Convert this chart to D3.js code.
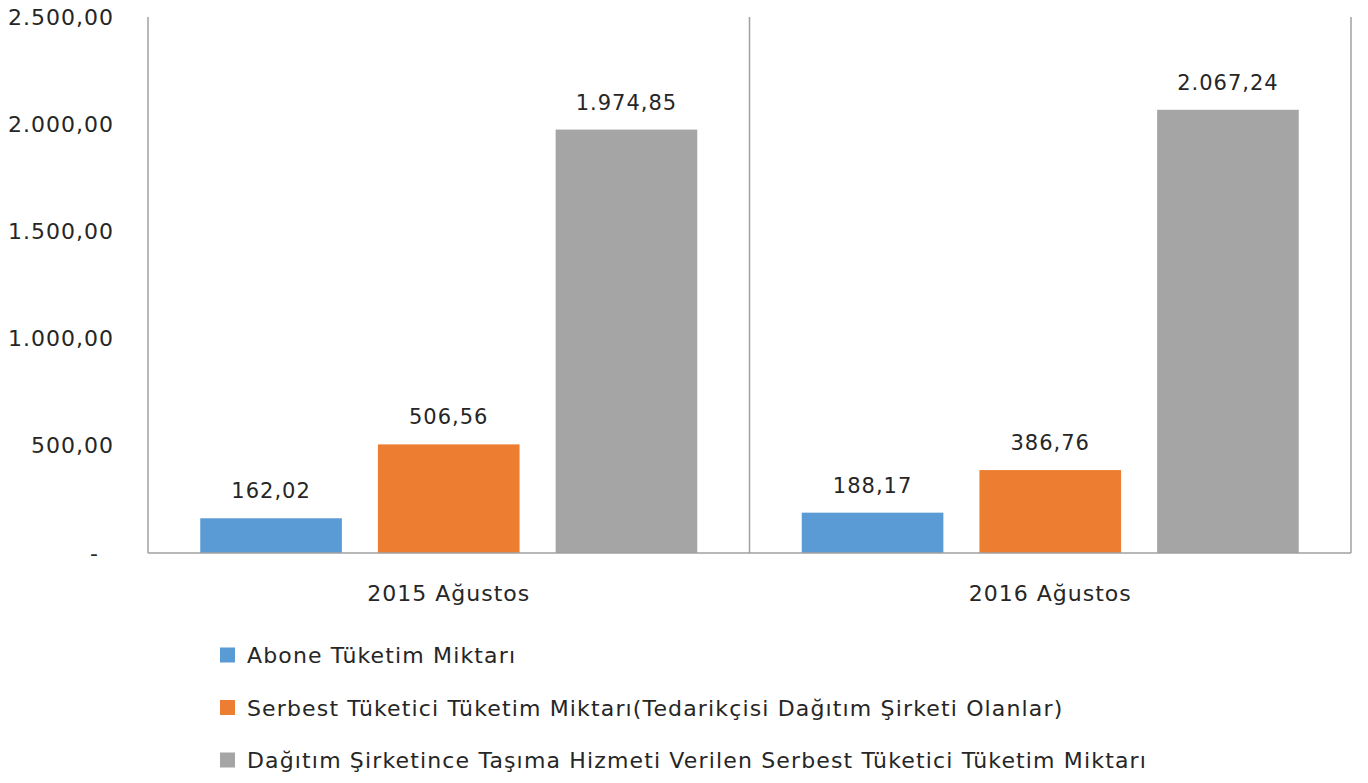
<!doctype html>
<html>
  <head>
    <meta charset="utf-8"/>
    <title>Ağustos Tüketim Miktarları</title>
    <style>
      body, html {
        margin: 0;
        padding: 0;
        background: white;
      }
      svg text {
        font-family: "DejaVu Sans", sans-serif;
        fill: #262626;
        letter-spacing: 1px;
      }
      .legend text {
        letter-spacing: 1.15px;
      }
    </style>
    <script src="https://d3js.org/d3.v7.min.js"></script>
  </head>
  <body>
    <svg width="1368" height="783"></svg>

    <script>
      var categories = ["2015 Ağustos", "2016 Ağustos"];
      var seriesNames = [
        "Abone Tüketim Miktarı",
        "Serbest Tüketici Tüketim Miktarı(Tedarikçisi Dağıtım Şirketi Olanlar)",
        "Dağıtım Şirketince Taşıma Hizmeti Verilen Serbest Tüketici Tüketim Miktarı"
      ];
      var seriesColors = ["#5b9bd5", "#ed7d31", "#a5a5a5"];
      var abone = [162.02, 188.17];
      var serbest = [506.56, 386.76];
      var tasima = [1974.85, 2067.24];
      var yTicks = [0, 500, 1000, 1500, 2000, 2500];

      var seriesValues = [abone, serbest, tasima];

      var svg = d3.select("svg"),
          margin = {top: 17, right: 17, bottom: 230, left: 148},
          width = +svg.attr("width") - margin.left - margin.right,
          height = +svg.attr("height") - margin.top - margin.bottom;

      var g = svg.append("g")
        .attr("transform", "translate(" + margin.left + "," + margin.top + ")");

      var x0 = d3.scaleBand().domain(categories).range([0, width]);
      var x1 = d3.scaleBand().domain(d3.range(seriesNames.length))
        .range([0, x0.bandwidth()])
        .paddingInner(0.203)
        .paddingOuter(0.294);
      var y = d3.scaleLinear().domain([0, 2500]).range([height, 0]);

      // turkish number format: 1.974,85
      var trFormat = d3.formatLocale({decimal: ",", thousands: ".", grouping: [3], currency: ["", ""]}).format(",.2f");

      // y axis labels only
      var yAxis = g.append("g")
        .call(d3.axisLeft(y).tickValues(yTicks).tickSize(0).tickPadding(34)
          .tickFormat(function(d) { return d === 0 ? "-" : trFormat(d); }));
      yAxis.select(".domain").remove();
      yAxis.selectAll("text")
        .style("font-size", "22px")
        .style("font-family", "'DejaVu Sans', sans-serif")
        .attr("fill", "#262626")
        .attr("x", function(d) { return d === 0 ? -49 : -34; });

      // vertical separators at category boundaries
      var bounds = categories.map(function(c) { return x0(c); }).concat([width]);
      g.selectAll(".sep")
        .data(bounds).enter().append("line")
          .attr("class", "sep")
          .attr("x1", function(d) { return d; })
          .attr("x2", function(d) { return d; })
          .attr("y1", 0)
          .attr("y2", height)
          .attr("stroke", "#a0a0a0")
          .attr("stroke-width", 1.5);

      var groups = g.selectAll(".cat")
        .data(categories).enter().append("g")
          .attr("class", "cat")
          .attr("transform", function(d) { return "translate(" + x0(d) + ",0)"; });

      groups.selectAll("rect")
        .data(function(d, ci) { return seriesValues.map(function(s, si) { return {si: si, value: s[ci]}; }); })
        .enter().append("rect")
          .attr("x", function(d) { return x1(d.si); })
          .attr("y", function(d) { return y(d.value); })
          .attr("width", x1.bandwidth())
          .attr("height", function(d) { return height - y(d.value); })
          .attr("fill", function(d) { return seriesColors[d.si]; });

      groups.selectAll(".val")
        .data(function(d, ci) { return seriesValues.map(function(s, si) { return {si: si, value: s[ci]}; }); })
        .enter().append("text")
          .attr("class", "val")
          .attr("text-anchor", "middle")
          .attr("x", function(d) { return x1(d.si) + x1.bandwidth() / 2; })
          .attr("y", function(d) { return y(d.value) - 20; })
          .style("font-size", "21px")
          .text(function(d) { return trFormat(d.value); });

      // baseline
      g.append("line")
        .attr("x1", 0).attr("x2", width)
        .attr("y1", height).attr("y2", height)
        .attr("stroke", "#a0a0a0")
        .attr("stroke-width", 1.5);

      // category labels
      g.selectAll(".catlabel")
        .data(categories).enter().append("text")
          .attr("class", "catlabel")
          .attr("text-anchor", "middle")
          .attr("x", function(d) { return x0(d) + x0.bandwidth() / 2; })
          .attr("y", height + 48)
          .style("font-size", "22px")
          .text(function(d) { return d; });

      // legend
      var legend = svg.append("g").attr("class", "legend").attr("transform", "translate(220,655)");
      var item = legend.selectAll(".item")
        .data(seriesNames).enter().append("g")
          .attr("class", "item")
          .attr("transform", function(d, i) { return "translate(0," + (i * 52.5) + ")"; });
      item.append("rect")
        .attr("x", 0).attr("y", -7.5)
        .attr("width", 15).attr("height", 15)
        .attr("fill", function(d, i) { return seriesColors[i]; });
      item.append("text")
        .attr("x", 27)
        .attr("y", 8)
        .style("font-size", "22px")
        .text(function(d) { return d; });
    </script>
  </body>
</html>
